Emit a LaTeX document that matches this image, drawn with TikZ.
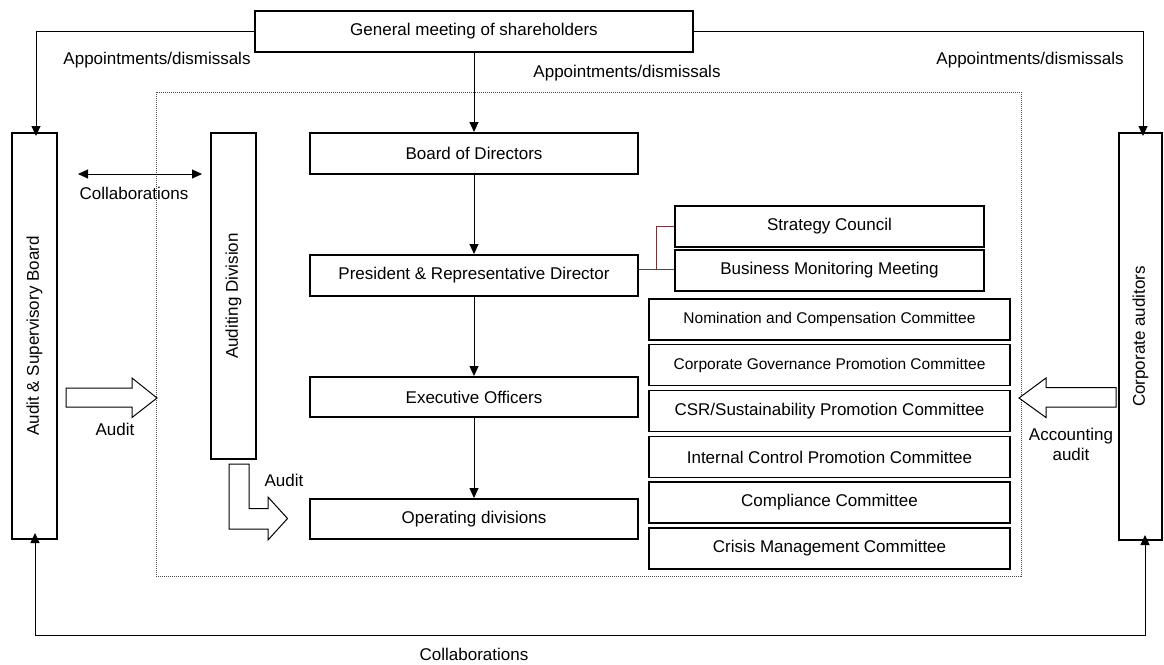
\documentclass[tikz,border=0pt]{standalone}
\usepackage{fontspec}
\setmainfont{Liberation Sans}
\usetikzlibrary{arrows.meta}
\definecolor{linkred}{RGB}{120,50,50}
\tikzset{
  bigbox/.style={draw, line width=2pt, font=\fontsize{17}{20}\selectfont, inner sep=0pt},
  combox/.style={draw, line width=1.2pt, font=\fontsize{17}{20}\selectfont, inner sep=0pt},
  lbl/.style={font=\fontsize{17}{20}\selectfont, inner sep=0pt, align=center},
  conn/.style={line width=1pt, -{Triangle[length=10pt,width=9pt]}},
  biconn/.style={line width=1pt, {Triangle[length=10pt,width=9pt]}-{Triangle[length=10pt,width=9pt]}},
  blockarrow/.style={draw, line width=1pt, fill=white}
}
\begin{document}
\begin{tikzpicture}[x=1pt,y=-1pt]
\useasboundingbox (0,0) rectangle (1164,664);
% dashed region
\draw[densely dotted, line width=1pt, draw=black!70] (156,92) rectangle (1021,576);
% main boxes
\node[bigbox, minimum width=438pt, minimum height=41pt] (gm) at (474,31.5) {General meeting of shareholders};
\node[bigbox, minimum width=45pt, minimum height=406pt] (asb) at (34.5,336) {};
\node[lbl, rotate=90] at (asb.center) {Audit \& Supervisory Board};
\node[bigbox, minimum width=43pt, minimum height=407pt] (ca) at (1140.5,336.5) {};
\node[lbl, rotate=90] at (ca.center) {Corporate auditors};
\node[bigbox, minimum width=45pt, minimum height=326pt] (ad) at (233.5,296) {};
\node[lbl, rotate=90] at (ad.center) {Auditing Division};
\node[bigbox, minimum width=328pt, minimum height=41pt] (bod) at (474,153.5) {Board of Directors};
\node[bigbox, minimum width=328pt, minimum height=41pt] (pres) at (474,275.5) {President \& Representative Director};
\node[bigbox, minimum width=328pt, minimum height=40pt] (exec) at (474,397) {Executive Officers};
\node[bigbox, minimum width=328pt, minimum height=40pt] (ops) at (474,519) {Operating divisions};
% councils
\node[combox, minimum width=309pt, minimum height=41pt] (sc) at (829.5,226.5) {Strategy Council};
\node[combox, minimum width=309pt, minimum height=41pt] (bmm) at (829.5,270.5) {Business Monitoring Meeting};
% committees
\node[combox, minimum width=361pt, minimum height=41pt, font=\fontsize{15.5}{18}\selectfont] (c1) at (829.5,319.5) {Nomination and Compensation Committee};
\node[combox, minimum width=361pt, minimum height=41pt, font=\fontsize{15.5}{18}\selectfont] (c2) at (829.5,365) {Corporate Governance Promotion Committee};
\node[combox, minimum width=361pt, minimum height=41pt] (c3) at (829.5,411) {CSR/Sustainability Promotion Committee};
\node[combox, minimum width=361pt, minimum height=41pt] (c4) at (829.5,457) {Internal Control Promotion Committee};
\node[combox, minimum width=361pt, minimum height=41pt] (c5) at (829.5,502.5) {Compliance Committee};
\node[combox, minimum width=361pt, minimum height=41pt] (c6) at (829.5,548.5) {Crisis Management Committee};
% connectors
\coordinate (jl) at (36,31.5);
\coordinate (jr) at (1143,31.5);
\draw[conn] (gm.west) -- (jl) -- ([yshift=-4pt]asb.north -| jl);
\draw[conn] (gm.east) -- (jr) -- ([yshift=-4pt]ca.north -| jr);
\draw[conn] (gm.south -| bod.north) -- (bod.north);
\draw[conn] (bod.south) -- (pres.north);
\draw[conn] (pres.south) -- (exec.north);
\draw[conn] (exec.south) -- (ops.north);
\coordinate (cl) at (78,174);
\coordinate (cr) at (202,174);
\draw[biconn] (cl) -- (cr);
% president to councils
\coordinate (pj) at (656,269);
\draw[linkred, line width=1pt] (pres.east |- pj) -- (pj) |- (sc.west);
\draw[linkred, line width=1pt] (pj) -- (bmm.west |- pj);
% bottom collaboration
\coordinate (bl) at (35,635);
\coordinate (br) at (1145,635);
\draw[line width=1pt, {Triangle[length=10pt,width=9pt]}-{Triangle[length=10pt,width=9pt]}] ([yshift=7pt]asb.south -| bl) -- (bl) -- (br) -- ([yshift=6pt]ca.south -| br);
% block arrows
\draw[blockarrow] (66,388) -- (132,388) -- (132,378) -- (157,398) -- (132,417.5) -- (132,407) -- (66,407) -- cycle;
\draw[blockarrow] (229,464) -- (249,464) -- (249,508.5) -- (268,508.5) -- (268,497) -- (287.5,518.5) -- (268,540) -- (268,529) -- (229,529) -- cycle;
\draw[blockarrow] (1116,387.5) -- (1046,387.5) -- (1046,378) -- (1019,398) -- (1046,417.5) -- (1046,407) -- (1116,407) -- cycle;
% labels
\node[lbl] (l1) at (157,60) {Appointments/dismissals};
\node[lbl] (l2) at (627,73) {Appointments/dismissals};
\node[lbl] (l3) at (1030,60) {Appointments/dismissals};
\node[lbl] (l4) at (134,193) {Collaborations};
\node[lbl] (l5) at (115,429) {Audit};
\node[lbl] (l6) at (284,480) {Audit};
\node[lbl, align=center] (l7) at (1071,444) {Accounting\\audit};
\node[lbl] (l8) at (474,654) {Collaborations};
\end{tikzpicture}
\end{document}
